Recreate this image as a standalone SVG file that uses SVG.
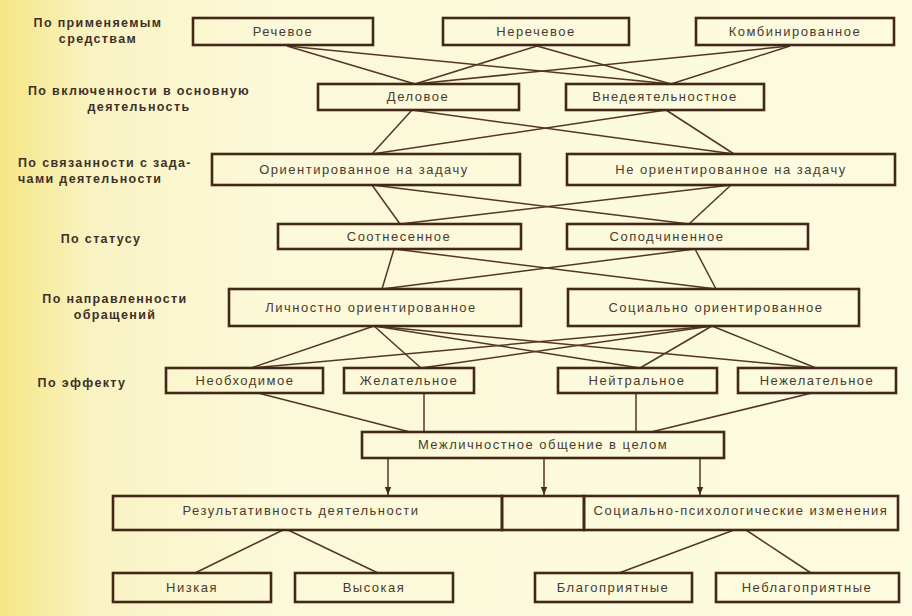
<svg xmlns="http://www.w3.org/2000/svg" width="912" height="616" viewBox="0 0 912 616">
<defs>
<linearGradient id="bg" x1="0" y1="0" x2="1" y2="0">
<stop offset="0" stop-color="#f5e684"/>
<stop offset="0.1" stop-color="#f9f3c2"/>
<stop offset="0.3" stop-color="#fcf9da"/>
<stop offset="1" stop-color="#fdfbdf"/>
</linearGradient>
<marker id="arr" viewBox="0 0 10 10" refX="10" refY="5" markerWidth="8" markerHeight="8" markerUnits="userSpaceOnUse" orient="auto">
<path d="M0,1 L10,5 L0,9 Z" fill="#4a2c1c"/>
</marker>
<style>
.box{fill:none;stroke:#432818;stroke-width:2.6}
.t{font-family:"Liberation Sans",Arial,sans-serif;font-size:13px;letter-spacing:1.5px;fill:#4a3a2e;text-anchor:middle}
.lab{font-family:"Liberation Sans",Arial,sans-serif;font-size:12.5px;font-weight:bold;letter-spacing:1.35px;fill:#3e3026;text-anchor:middle}
.c line{stroke:#553623;stroke-width:1.5}
.a{marker-end:url(#arr)}
</style>
</defs>
<rect width="912" height="616" fill="url(#bg)"/>

<g id="labels">
<text class="lab" x="98" y="27">По применяемым</text>
<text class="lab" x="98" y="43">средствам</text>
<text class="lab" x="139" y="95">По включенности в основную</text>
<text class="lab" x="139" y="111">деятельность</text>
<text class="lab" x="18" y="167" style="text-anchor:start">По связанности с зада-</text>
<text class="lab" x="18" y="183" style="text-anchor:start">чами деятельности</text>
<text class="lab" x="101" y="243">По статусу</text>
<text class="lab" x="115" y="303">По направленности</text>
<text class="lab" x="115" y="319">обращений</text>
<text class="lab" x="82" y="387">По эффекту</text>
</g>

<g id="connectors" class="c">
<line x1="287" y1="46" x2="415" y2="84"/>
<line x1="287" y1="46" x2="671" y2="84"/>
<line x1="537" y1="46" x2="415" y2="84"/>
<line x1="537" y1="46" x2="671" y2="84"/>
<line x1="790" y1="46" x2="415" y2="84"/>
<line x1="790" y1="46" x2="671" y2="84"/>

<line x1="412" y1="110" x2="372" y2="154"/>
<line x1="412" y1="110" x2="734" y2="154"/>
<line x1="666" y1="110" x2="372" y2="154"/>
<line x1="666" y1="110" x2="734" y2="154"/>

<line x1="372" y1="185" x2="400" y2="224"/>
<line x1="372" y1="185" x2="689" y2="224"/>
<line x1="731" y1="185" x2="400" y2="224"/>
<line x1="731" y1="185" x2="689" y2="224"/>

<line x1="394" y1="249" x2="382" y2="289"/>
<line x1="394" y1="249" x2="716" y2="289"/>
<line x1="695" y1="249" x2="382" y2="289"/>
<line x1="695" y1="249" x2="716" y2="289"/>

<line x1="374" y1="326" x2="251" y2="368"/>
<line x1="374" y1="326" x2="421" y2="368"/>
<line x1="374" y1="326" x2="640" y2="368"/>
<line x1="374" y1="326" x2="816" y2="368"/>
<line x1="712" y1="326" x2="251" y2="368"/>
<line x1="712" y1="326" x2="421" y2="368"/>
<line x1="712" y1="326" x2="640" y2="368"/>
<line x1="712" y1="326" x2="816" y2="368"/>

<line x1="258" y1="393" x2="410" y2="432"/>
<line x1="424" y1="393" x2="424" y2="432"/>
<line x1="636" y1="393" x2="636" y2="432"/>
<line x1="812" y1="393" x2="651" y2="432"/>

<line class="a" x1="388" y1="459" x2="388" y2="495"/>
<line class="a" x1="544" y1="459" x2="544" y2="495"/>
<line class="a" x1="700" y1="459" x2="700" y2="495"/>

<line x1="283" y1="530" x2="195" y2="573"/>
<line x1="288" y1="530" x2="378" y2="573"/>
<line x1="734" y1="530" x2="619" y2="573"/>
<line x1="746" y1="530" x2="811" y2="573"/>
</g>

<g id="n-rechevoe"><rect class="box" x="193" y="18" width="180" height="27"/><text class="t" x="283" y="36">Речевое</text></g>
<g id="n-nerechevoe"><rect class="box" x="443" y="18" width="186" height="27"/><text class="t" x="536" y="36">Неречевое</text></g>
<g id="n-kombinirovannoe"><rect class="box" x="696" y="18" width="198" height="27"/><text class="t" x="795" y="36">Комбинированное</text></g>

<g id="n-delovoe"><rect class="box" x="318" y="84" width="201" height="26"/><text class="t" x="418" y="101">Деловое</text></g>
<g id="n-vnedeyatelnostnoe"><rect class="box" x="566" y="84" width="198" height="26"/><text class="t" x="665" y="101">Внедеятельностное</text></g>

<g id="n-orient"><rect class="box" x="212" y="154" width="308" height="31"/><text class="t" x="364" y="174">Ориентированное на задачу</text></g>
<g id="n-neorient"><rect class="box" x="567" y="154" width="328" height="31"/><text class="t" x="731" y="174">Не ориентированное на задачу</text></g>

<g id="n-sootnesennoe"><rect class="box" x="278" y="224" width="243" height="25"/><text class="t" x="399" y="241">Соотнесенное</text></g>
<g id="n-sopodchinennoe"><rect class="box" x="567" y="224" width="241" height="25"/><text class="t" x="667" y="241">Соподчиненное</text></g>

<g id="n-lichnostno"><rect class="box" x="229" y="289" width="292" height="37"/><text class="t" x="371" y="312">Личностно ориентированное</text></g>
<g id="n-socialno"><rect class="box" x="568" y="289" width="291" height="37"/><text class="t" x="716" y="312">Социально ориентированное</text></g>

<g id="n-neobhodimoe"><rect class="box" x="166" y="368" width="157" height="25"/><text class="t" x="245" y="385">Необходимое</text></g>
<g id="n-zhelatelnoe"><rect class="box" x="344" y="368" width="130" height="25"/><text class="t" x="409" y="385">Желательное</text></g>
<g id="n-neitralnoe"><rect class="box" x="558" y="368" width="159" height="25"/><text class="t" x="637" y="385">Нейтральное</text></g>
<g id="n-nezhelatelnoe"><rect class="box" x="738" y="368" width="158" height="25"/><text class="t" x="817" y="385">Нежелательное</text></g>

<g id="n-mezhlichnostnoe"><rect class="box" x="362" y="432" width="362" height="26"/><text class="t" x="543" y="449">Межличностное общение в целом</text></g>

<g id="n-rezultativnost"><rect class="box" x="113" y="496" width="389" height="34"/><text class="t" x="301" y="515">Результативность деятельности</text></g>
<g id="n-empty"><rect class="box" x="502" y="496" width="82" height="34"/></g>
<g id="n-izmeneniya"><rect class="box" x="584" y="496" width="314" height="34"/><text class="t" x="741" y="515">Социально-психологические изменения</text></g>

<g id="n-nizkaya"><rect class="box" x="113" y="573" width="158" height="29"/><text class="t" x="192" y="592">Низкая</text></g>
<g id="n-vysokaya"><rect class="box" x="295" y="573" width="158" height="29"/><text class="t" x="374" y="592">Высокая</text></g>
<g id="n-blagopriyatnye"><rect class="box" x="535" y="573" width="157" height="29"/><text class="t" x="613" y="592">Благоприятные</text></g>
<g id="n-neblagopriyatnye"><rect class="box" x="716" y="573" width="183" height="29"/><text class="t" x="807" y="592">Неблагоприятные</text></g>
</svg>
